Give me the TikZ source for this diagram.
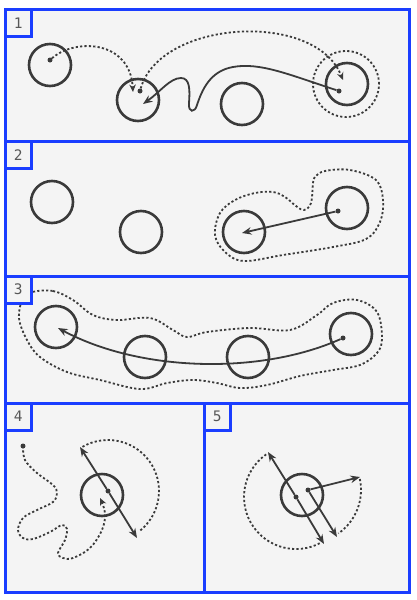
\documentclass[tikz,border=0pt]{standalone}
\usepackage{fontspec}
\setmonofont{DejaVu Sans Mono}
\usetikzlibrary{arrows.meta}

\definecolor{frame}{RGB}{26,61,255}
\definecolor{paper}{RGB}{244,244,244}
\definecolor{ink}{RGB}{58,58,58}

\begin{document}
\begin{tikzpicture}[
  x=1pt, y=-1pt,
  panel/.style = {draw=frame, fill=paper, line width=3pt},
  tag/.style   = {draw=frame, fill=paper, line width=3pt, anchor=north west,
                  minimum width=25.5pt, minimum height=27pt, inner sep=0pt,
                  outer sep=0pt, font=\ttfamily\fontsize{14.5}{14.5}\selectfont,
                  text=ink!85},
  ring/.style  = {circle, draw=ink, line width=2.6pt, minimum size=42pt,
                  inner sep=0pt},
  halo/.style  = {circle, draw=ink, line width=1.8pt, minimum size=66pt,
                  inner sep=0pt, dash pattern=on 2.2pt off 2.2pt},
  spot/.style  = {circle, fill=ink, minimum size=5pt, inner sep=0pt},
  push/.style  = {-{Stealth[length=9.5pt, width=7.5pt]}, draw=ink, line width=1.8pt},
  trail/.style = {draw=ink, line width=1.8pt, dash pattern=on 2.2pt off 2.2pt},
  hop/.style   = {trail, -{Stealth[length=7.5pt, width=6.5pt]}},
]

\fill[white] (0,0) rectangle (417,600);
\useasboundingbox (0,0) rectangle (417,600);

% --- panels --------------------------------------------------------------
\draw[panel] (5.5,9.5)   rectangle (409.5,141.5);
\draw[panel] (5.5,141.5) rectangle (409.5,276);
\draw[panel] (5.5,276)   rectangle (409.5,403);
\draw[panel] (5.5,403)   rectangle (204.5,592);
\draw[panel] (204.5,403) rectangle (409.5,592);

% --- panel 1 -------------------------------------------------------------
\node[ring] (a1) at (50,65)   {};
\node[ring] (b1) at (138,100) {};
\node[ring] (c1) at (242,104) {};
\node[ring] (d1) at (347,84)  {};
\node[halo] (h1) at (346,84)  {};
\node[spot] (a1dot) at (50,60)  {};
\node[spot] (b1dot) at (140,91) {};
\node[spot] (d1dot) at (339,91) {};
\coordinate (b1in)  at (133,92);
\coordinate (d1in)  at (343,80);
\coordinate (b1hit) at (143,104);

\draw[hop] (a1dot) .. controls (75,38) and (130,40) .. (b1in);
\draw[hop] (b1dot) .. controls (160,20) and (315,10) .. (d1in);
\draw[push] (d1dot) .. controls (290,75) and (260,62) .. (233,67)
     .. controls (210,71) and (202,90) .. (197,105)
     .. controls (195,113) and (188,113) .. (189,103)
     .. controls (190,90) and (190,78) .. (181,78)
     .. controls (170,78) and (160,92) .. (b1hit);

% --- panel 2 -------------------------------------------------------------
\node[ring] (a2) at (52,202)  {};
\node[ring] (b2) at (141,232) {};
\node[ring] (c2) at (244,232) {};
\node[ring] (d2) at (347,208) {};
\node[spot] (d2dot) at (338,211) {};
\coordinate (c2in) at (242,233);

\draw[trail] plot[smooth cycle, tension=0.6] coordinates {
  (313,183) (311,203) (304,210) (296,206) (285,197) (273,192) (255,193)
  (235,200) (220,213) (215,235) (225,252) (244,261) (283,255) (333,247)
  (366,239) (380,222) (383,200) (376,180) (350,170) (325,171) (315,177)};
\draw[push] (d2dot) -- (c2in);

% --- panel 3 -------------------------------------------------------------
\node[ring] (a3) at (56,327)  {};
\node[ring] (b3) at (145,357) {};
\node[ring] (c3) at (248,357) {};
\node[ring] (d3) at (351,334) {};
\node[spot] (d3dot) at (343,338) {};
\coordinate (a3in) at (58,328);

\draw[trail] plot[smooth cycle, tension=0.6] coordinates {
  (32,292) (53,291) (73,300) (93,315) (117,320) (150,318) (173,330)
  (187,337) (207,332) (250,328) (290,330) (317,315) (333,303) (357,300)
  (377,312) (382,338) (377,353) (360,365) (333,370) (300,376) (267,385)
  (240,388) (217,383) (193,380) (167,383) (140,389) (100,380) (67,372)
  (40,357) (27,340) (19,318) (23,298)};
\draw[push] (d3dot) .. controls (260,375) and (140,372) .. (a3in);

% --- panel 4 -------------------------------------------------------------
\node[ring] (a4) at (102,495) {};
\node[spot] (a4dot) at (108,491) {};
\node[spot] (s4)    at (23,446)  {};
\coordinate (a4up) at (80,447);
\coordinate (a4dn) at (137,538);
\coordinate (a4in) at (100,498);

\draw[trail] (a4dot) ++(240:51) arc[start angle=240, end angle=413, radius=51];
\draw[push] (a4dot) -- (a4up);
\draw[push] (a4dot) -- (a4dn);
\draw[hop] plot[smooth, tension=0.6] coordinates {
  (s4) (25,460) (37,473) (53,485) (57,493) (53,502) (37,510) (23,518)
  (18,530) (23,538) (33,539) (50,532) (62,525) (67,529) (65,540)
  (58,553) (63,558) (73,558) (90,548) (102,530) (105,513) (a4in)};

% --- panel 5 -------------------------------------------------------------
\node[ring] (a5) at (302,495) {};
\node[spot] (a5dot) at (296,497) {};
\node[spot] (b5dot) at (308,490) {};
\coordinate (a5up) at (268,452);
\coordinate (a5dn) at (324,544);
\coordinate (b5rt) at (360,477);
\coordinate (b5dn) at (337,537);

\draw[trail] (a5dot) ++(235:52) arc[start angle=235, end angle=62, radius=52];
\draw[trail] (b5dot) ++(-12:53) arc[start angle=-12, end angle=55, radius=53];
\draw[push] (a5dot) -- (a5up);
\draw[push] (a5dot) -- (a5dn);
\draw[push] (b5dot) -- (b5rt);
\draw[push] (b5dot) -- (b5dn);

% --- tags ----------------------------------------------------------------
\node[tag] (t1) at (5.5,9.5)   {1};
\node[tag] (t2) at (5.5,141.5) {2};
\node[tag] (t3) at (5.5,276)   {3};
\node[tag] (t4) at (5.5,403)   {4};
\node[tag] (t5) at (204.5,403) {5};

\end{tikzpicture}
\end{document}
